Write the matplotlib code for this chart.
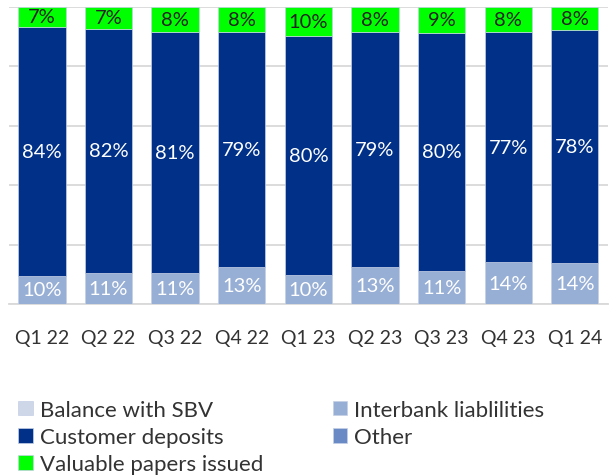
import matplotlib.pyplot as plt
import numpy as np

quarters = ["Q1 22", "Q2 22", "Q3 22", "Q4 22", "Q1 23", "Q2 23", "Q3 23", "Q4 23", "Q1 24"]
balance_sbv = [0, 0, 0, 0, 0, 0, 0, 0, 0]
interbank = [9.6, 10.6, 10.6, 12.6, 9.7, 12.6, 11.1, 14.1, 13.8]
customer_deposits = [83.6, 82.0, 81.0, 79.0, 80.4, 79.0, 80.2, 77.4, 78.3]
other = [0, 0, 0, 0, 0.1, 0, 0, 0.1, 0]
papers = [6.8, 7.4, 8.4, 8.4, 9.8, 8.4, 8.7, 8.4, 7.9]

series = [
    ("Balance with SBV", balance_sbv, "#cdd7e8", None),
    ("Interbank liablilities", interbank, "#97aed5", "white"),
    ("Customer deposits", customer_deposits, "#003087", "white"),
    ("Other", other, "#6a8ac6", None),
    ("Valuable papers issued", papers, "#00ff00", "#222222"),
]

plt.rcParams["font.family"] = ["Lato", "DejaVu Sans"]

fig = plt.figure(figsize=(6.13, 4.77), dpi=100)
ax = fig.add_axes([0.014, 0.360, 0.978, 0.624])

x = np.arange(len(quarters))
bottom = np.zeros(len(quarters))
handles = {}
for name, vals, color, txt in series:
    vals = np.array(vals, dtype=float)
    bars = ax.bar(x, vals, 0.71, bottom=bottom, color=color,
                  edgecolor="#c5d0e6", linewidth=0.5, zorder=3)
    handles[name] = bars
    if txt:
        for xi, b, v in zip(x, bottom, vals):
            ax.text(xi, b + v / 2, f"{v:.0f}%", ha="center", va="center",
                    color=txt, fontsize=14.5, zorder=4)
    bottom += vals

ax.set_xlim(-0.5, 8.5)
ax.set_ylim(0, 100)
ax.set_yticks(np.arange(0, 101, 20))
ax.yaxis.grid(True, color="#d9d9d9", linewidth=1.3, zorder=0)
ax.set_yticklabels([])
ax.tick_params(axis="y", length=0)
ax.tick_params(axis="x", length=0, pad=18, labelsize=14, labelcolor="#333333")
ax.set_xticks(x)
ax.set_xticklabels(quarters)
for s in ["top", "right", "left"]:
    ax.spines[s].set_visible(False)
ax.spines["bottom"].set_color("#d9d9d9")
ax.spines["bottom"].set_linewidth(1.3)

order = ["Balance with SBV", "Customer deposits", "Valuable papers issued",
         "Interbank liablilities", "Other"]
leg = fig.legend([handles[n] for n in order], order, ncol=2,
                 loc="upper left", bbox_to_anchor=(0.012, 0.183),
                 frameon=False, fontsize=16, handlelength=0.65, handleheight=0.65,
                 handletextpad=0.3, columnspacing=3.15, labelspacing=0.33,
                 borderpad=0)
for t in leg.get_texts():
    t.set_color("#333333")

fig.savefig("out.png", dpi=100)
